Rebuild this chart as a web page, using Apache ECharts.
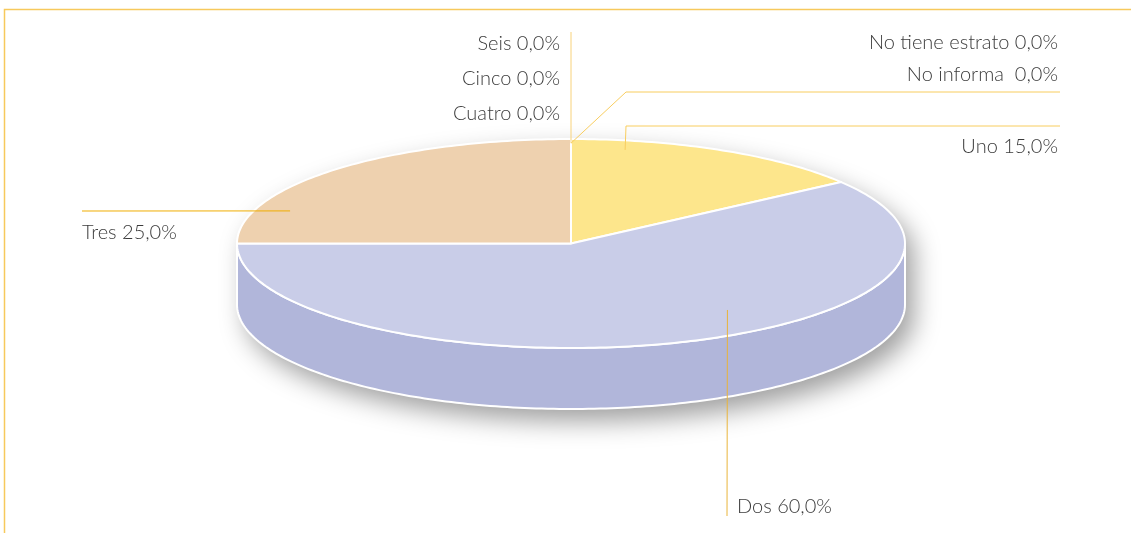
<!DOCTYPE html>
<html>
<head>
<meta charset="utf-8">
<title>Estrato</title>
<script src="https://cdn.jsdelivr.net/npm/echarts@6/dist/echarts.min.js"></script>
<style>
html,body{margin:0;padding:0;background:#fff;}
#pie{width:1131px;height:533px;}
</style>
</head>
<body>
<div id="pie"></div>
<script>
// datos
var names = ['Uno', 'Dos', 'Tres', 'Cuatro', 'Cinco', 'Seis', 'No tiene estrato', 'No informa '];
var values = [15, 60, 25, 0, 0, 0, 0, 0];

// colores
var topColors = ['#fde68c', '#c9cde8', '#eed1af', '#eed1af', '#eed1af', '#eed1af', '#fde68c', '#fde68c'];
var sideColors = ['#f3d676', '#b1b6da', '#dfbf98', '#dfbf98', '#dfbf98', '#dfbf98', '#f3d676', '#f3d676'];

// geometria del pastel
var cx = 571, cy = 243.5, rx = 334, ry = 104.5, depth = 61;
var FONT = 'Lato';

// posicion de etiquetas y guias (anchor: [fraccion del angulo, fraccion del radio])
var labelLayout = [
	{anchor: [0.19, 0.91], line: [[626, 126], [1060, 126]], text: [1058, 147], align: 'right', color: '#f8cd5f'},
	{anchor: [0.415, 0.79], line: [[727, 516]], text: [737, 507], align: 'left', color: '#e9b43a'},
	{anchor: [0.226, 0.897], line: [[82, 211]], text: [82, 233], align: 'left', color: '#f0ad00'},
	{anchor: [0, 0.96], line: [[571, 32]], text: [560, 114], align: 'right', color: '#f8d27a'},
	{text: [560, 79], align: 'right'},
	{text: [560, 44], align: 'right'},
	{text: [1058, 43], align: 'right'},
	{anchor: [0, 0.96], line: [[626, 92], [1060, 92]], text: [1058, 75], align: 'right', color: '#f8cd5f'}
];

var total = 0;
for (var i = 0; i < values.length; i++) total += values[i];
var starts = [], ends = [];
var acc = -Math.PI / 2;
for (var i = 0; i < values.length; i++) {
	starts.push(acc);
	acc += values[i] / total * Math.PI * 2;
	ends.push(acc);
}

function pt(a, r, dy) {
	return [cx + rx * r * Math.cos(a), cy + ry * r * Math.sin(a) + (dy || 0)];
}
function arc(a0, a1, dy, pts) {
	var n = Math.max(2, Math.ceil(Math.abs(a1 - a0) / (Math.PI / 180)));
	for (var k = 0; k <= n; k++) pts.push(pt(a0 + (a1 - a0) * k / n, 1, dy));
	return pts;
}
function pct(v) {
	return (v / total * 100).toFixed(1).replace('.', ',') + '%';
}

var myChart = echarts.init(document.getElementById('pie'));
var seriesData = values.map(function (v, i) { return [i, v]; });

var option = {
	animation: false,
	graphic: [
		{type: 'polyline', shape: {points: [[4.5, 533], [4.5, 9.5], [1131, 9.5]]}, style: {stroke: '#f7c95c', lineWidth: 1.5, fill: null}, z: 0}
	],
	series: [
		{
			// sombra del cilindro
			type: 'custom', coordinateSystem: 'none', z: 1,
			data: [[0, 0]],
			renderItem: function () {
				var pts = [];
				arc(Math.PI, Math.PI * 2, 0, pts);
				arc(0, Math.PI, depth, pts);
				return {
					type: 'polygon', shape: {points: pts},
					style: {fill: '#fff', shadowColor: 'rgba(0,0,0,0.38)', shadowBlur: 26, shadowOffsetX: 9, shadowOffsetY: 12}
				};
			}
		},
		{
			// caras laterales
			type: 'custom', coordinateSystem: 'none', z: 2,
			data: seriesData,
			renderItem: function (params) {
				var i = params.dataIndex;
				var children = [];
				var ranges = [[0, Math.PI], [Math.PI * 2, Math.PI * 3]];
				for (var r = 0; r < ranges.length; r++) {
					var s = Math.max(starts[i], ranges[r][0]);
					var e = Math.min(ends[i], ranges[r][1]);
					if (e - s <= 0.0001) continue;
					var pts = arc(s, e, 0, []);
					var bottom = arc(e, s, depth, []);
					children.push({
						type: 'polygon', shape: {points: pts.concat(bottom)},
						style: {fill: sideColors[i], stroke: '#fff', lineWidth: 2}
					});
				}
				return {type: 'group', children: children};
			}
		},
		{
			// caras superiores
			type: 'custom', coordinateSystem: 'none', z: 3,
			data: seriesData,
			renderItem: function (params) {
				var i = params.dataIndex;
				if (ends[i] - starts[i] <= 0) return null;
				var pts = [[cx, cy]];
				arc(starts[i], ends[i], 0, pts);
				return {
					type: 'polygon', shape: {points: pts},
					style: {fill: topColors[i], stroke: '#fff', lineWidth: 2, lineJoin: 'round'}
				};
			}
		},
		{
			// etiquetas
			type: 'custom', coordinateSystem: 'none', z: 4,
			data: seriesData,
			renderItem: function (params) {
				var i = params.dataIndex;
				var L = labelLayout[i];
				var children = [];
				if (L.line) {
					var a = starts[i] + (ends[i] - starts[i]) * L.anchor[0];
					var p0 = pt(a, L.anchor[1], 0);
					children.push({
						type: 'polyline', shape: {points: [p0].concat(L.line)},
						style: {stroke: L.color, lineWidth: 1, fill: null}
					});
				}
				children.push({
					type: 'text',
					style: {
						text: names[i] + ' ' + pct(values[i]),
						x: L.text[0], y: L.text[1],
						align: L.align, verticalAlign: 'middle',
						textAlign: L.align, textVerticalAlign: 'middle',
						fill: '#3c3c3c', fontFamily: FONT, fontWeight: 300, fontSize: 20
					}
				});
				return {type: 'group', children: children};
			}
		}
	]
};
myChart.setOption(option);
</script>
</body>
</html>
